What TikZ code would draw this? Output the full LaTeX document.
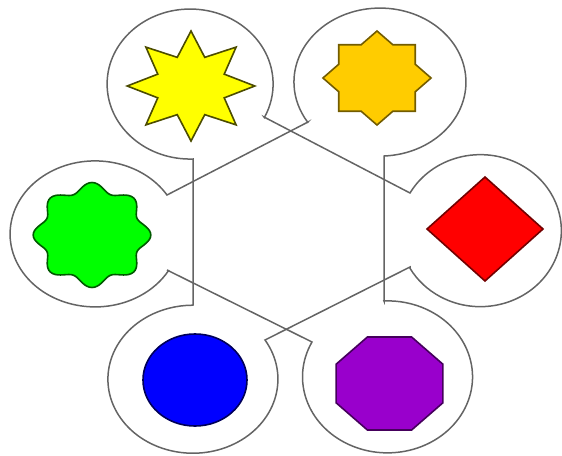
\documentclass[tikz,border=0pt]{standalone}
\definecolor{sunyellow}{RGB}{255, 255, 0}
\definecolor{amber}{RGB}{255, 204, 0}
\definecolor{leafgreen}{RGB}{0, 255, 0}
\definecolor{signalred}{RGB}{255, 0, 0}
\definecolor{deepblue}{RGB}{0, 0, 255}
\definecolor{violet}{RGB}{153, 0, 204}
\definecolor{rimgray}{RGB}{100, 100, 100}

\begin{document}
\begin{tikzpicture}[
  x=1pt, y=-1pt,
  bubble/.style={draw=rimgray, line width=1.5pt},
  shp/.style={line width=1.6pt}
]
  \useasboundingbox (0,0) rectangle (562,455);

  \coordinate (y1) at (193,159);
  \coordinate (y2) at (264,117);
  \coordinate (r1) at (410,193);
  \coordinate (r2) at (410,267);
  \coordinate (b1) at (193,305);
  \coordinate (b2) at (265,340);
  \coordinate (o1) at (308,122);
  \coordinate (o2) at (384,156);
  \coordinate (g1) at (167,195);
  \coordinate (g2) at (167,270);
  \coordinate (p1) at (312,342);
  \coordinate (p2) at (384,301);

  \coordinate (yel) at (191,86);
  \coordinate (amb) at (377,78);
  \coordinate (red) at (485,229);
  \coordinate (grn) at (92,235);
  \coordinate (blu) at (195,380);
  \coordinate (vio) at (389.5,383.5);

  \draw[bubble] (y1) arc[start angle=88, end angle=386.5, x radius=83, y radius=75] -- (y2)
    -- (r1) arc[start angle=209.7, end angle=510.3, x radius=81, y radius=76] -- (r2)
    -- (b2) arc[start angle=328, end angle=629.3, x radius=85, y radius=74] -- (b1)
    -- cycle;
  \draw[bubble] (o1) -- (g1) arc[start angle=-32.2, end angle=-329.8, x radius=85, y radius=73] -- (g2)
    -- (p1) arc[start angle=207.3, end angle=-92.4, x radius=85, y radius=76] -- (p2)
    -- (o2) arc[start angle=87.3, end angle=-212.9, x radius=86, y radius=74]
    -- cycle;

  \begin{scope}[shift={(yel)}, xscale=1.16]
    \draw[shp, fill=sunyellow, draw=sunyellow!30!black] (90:55)
      \foreach \k in {1,...,15} { -- (90+\k*22.5:{ifthenelse(isodd(\k),31,55)}) } -- cycle;
  \end{scope}
  \begin{scope}[shift={(amb)}, xscale=1.15]
    \draw[shp, fill=amber, draw=amber!45!black] (90:47)
      \foreach \k in {1,...,15} { -- (90+\k*22.5:{ifthenelse(isodd(\k),36,47)}) } -- cycle;
  \end{scope}
  \begin{scope}[shift={(red)}]
    \draw[shp, fill=signalred, draw=signalred!45!black] (58,0) -- (0,52) -- (-58,0) -- (0,-52) -- cycle;
  \end{scope}
  \begin{scope}[shift={(grn)}, xscale=1.12]
    \draw[shp, fill=leafgreen, draw=leafgreen!35!black]
      plot[domain=0:360, samples=145, smooth cycle] (\x:{48+4.5*cos(8*\x)});
  \end{scope}
  \draw[shp, fill=deepblue, draw=deepblue!35!black] (blu) ellipse[x radius=52, y radius=46];
  \begin{scope}[shift={(vio)}, xscale=1.15]
    \draw[shp, fill=violet, draw=violet!45!black] (22.5:50.3)
      \foreach \k in {1,...,7} { -- (22.5+\k*45:50.3) } -- cycle;
  \end{scope}
\end{tikzpicture}
\end{document}
